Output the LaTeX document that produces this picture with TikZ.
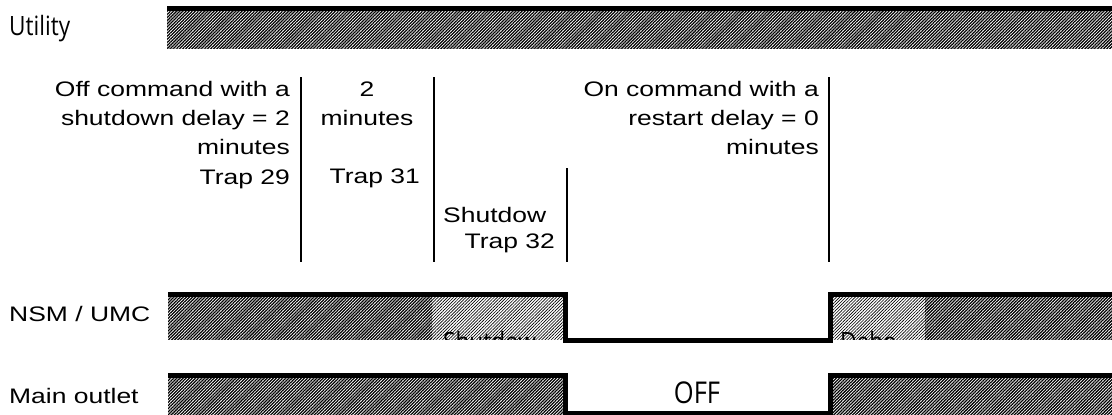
\documentclass[tikz,border=0pt]{standalone}
\usepackage{fontspec}
\setmainfont{Liberation Sans}[FakeStretch=1.26]
\newfontfamily\segoe{Open Sans}[FakeStretch=0.85]
\usetikzlibrary{patterns.meta}
\begin{document}
\begin{tikzpicture}[x=1pt,y=-1pt,
  lab/.style={font=\fontsize{21}{29.4}\selectfont, inner sep=0, align=right},
  sig/.style={font=\segoe\fontsize{26.6}{30}\selectfont, inner sep=0, anchor=base west},
  dark/.style={pattern={Lines[angle=45,distance=2.2pt,line width=1.25pt]}, pattern color=black},
  light/.style={pattern={Lines[angle=45,distance=2.2pt,line width=0.65pt]}, pattern color=black},
  wave/.style={line width=5pt, line join=miter},
  divider/.style={line width=2pt}
]
\useasboundingbox (0,0) rectangle (1112,415);
\fill[white] (0,0) rectangle (1112,415);

% Utility
\path[dark] (167,8) rectangle (1112,48);
\draw[wave] (167,8.3) -- (1112,8.3);
\node[sig] (utility) at (9,35) {Utility};

% dividers
\draw[divider] (300.7,77) -- (300.7,262);
\draw[divider] (434,77) -- (434,262);
\draw[divider] (566.7,168) -- (566.7,262);
\draw[divider] (829,77) -- (829,262);

% event texts (base anchor = baseline of last line)
\node[lab, anchor=base east] (off) at (290,184.2) {Off command with a\\shutdown delay = 2\\minutes\\Trap 29};
\node[lab, align=center, anchor=base] (two) at (367,125.4) {2\\minutes};
\node[lab, anchor=base east] (t31) at (420,183) {Trap 31};
\node[lab, anchor=base west] (shut) at (443,222) {Shutdow};
\node[lab, anchor=base east] (t32) at (555,248) {Trap 32};
\node[lab, anchor=base east] (on) at (819,154.8) {On command with a\\restart delay = 0\\minutes};

% NSM / UMC
\path[dark] (168,294) rectangle (432,339);
\path[light] (432,294) rectangle (565.8,339);
\path[light] (830.8,294) rectangle (925,339);
\path[dark] (925,294) rectangle (1112,339);
\begin{scope}
\clip (432,294) rectangle (565.8,339);
\node[sig] (nsmshut) at (443,351) {Shutdow};
\end{scope}
\begin{scope}
\clip (830.8,294) rectangle (925,339);
\node[sig] (nsmdebo) at (840,351) {Debo};
\end{scope}
\draw[wave] (168,294.2) -- (565.8,294.2) -- (565.8,340.5) -- (830.8,340.5) -- (830.8,294.2) -- (1112,294.2);
\node[lab, anchor=base west] (nsm) at (9,321) {NSM / UMC};

% Main outlet
\path[dark] (168,375.5) rectangle (565.8,415);
\path[dark] (830.8,375.5) rectangle (1112,415);
\draw[wave] (168,375.5) -- (565.8,375.5) -- (565.8,413) -- (830.8,413) -- (830.8,375.5) -- (1112,375.5);
\node[lab, anchor=base west] (main) at (9,403) {Main outlet};
\node[font=\segoe\fontsize{30}{34}\selectfont, inner sep=0, anchor=base] (offlbl) at (697,403) {OFF};
\end{tikzpicture}
\end{document}
